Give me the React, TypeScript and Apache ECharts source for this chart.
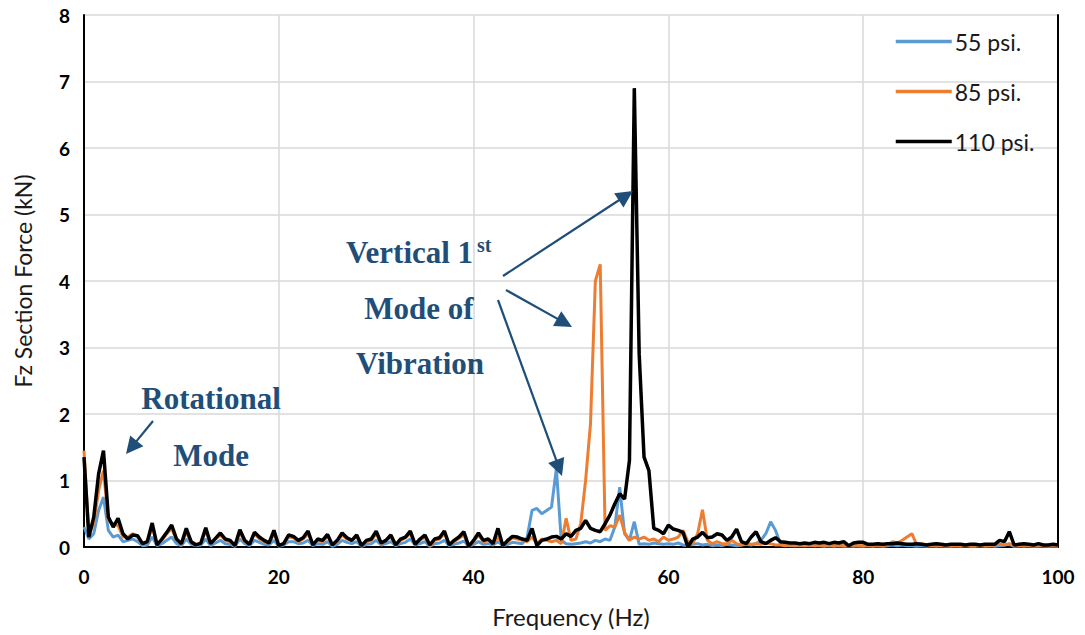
import React, { useEffect, useRef } from "react";
import * as echarts from "echarts";

// Frequency step of the FFT (Hz)
const FREQ_STEP = 0.5;

const seriesNames = ["55 psi.", "85 psi.", "110 psi."];
const seriesColors = ["#5B9BD5", "#ED7D31", "#000000"];

// Fz section force (kN) at 0, 0.5, 1.0 ... 100 Hz
const psi55 = [
  0.3, 0.12, 0.2, 0.55, 0.75, 0.25, 0.15, 0.18, 0.08, 0.1,
  0.12, 0.08, 0.02, 0.03, 0.15, 0.02, 0.05, 0.1, 0.15, 0.05,
  0.02, 0.12, 0.04, 0.02, 0.03, 0.12, 0.02, 0.06, 0.1, 0.05,
  0.04, 0.01, 0.12, 0.05, 0.02, 0.1, 0.07, 0.04, 0.03, 0.1,
  0.01, 0.03, 0.08, 0.08, 0.05, 0.06, 0.1, 0.02, 0.05, 0.04,
  0.08, 0.01, 0.04, 0.1, 0.07, 0.05, 0.08, 0.01, 0.04, 0.05,
  0.1, 0.03, 0.05, 0.08, 0.02, 0.05, 0.07, 0.12, 0.03, 0.05,
  0.08, 0.01, 0.05, 0.06, 0.1, 0.02, 0.04, 0.06, 0.09, 0.01,
  0.04, 0.08, 0.04, 0.05, 0.03, 0.08, 0.02, 0.04, 0.07, 0.06,
  0.05, 0.15, 0.55, 0.58, 0.5, 0.55, 0.6, 1.18, 0.1, 0.05,
  0.04, 0.05, 0.06, 0.08, 0.06, 0.1, 0.08, 0.12, 0.1, 0.3,
  0.9, 0.2, 0.1, 0.38, 0.04, 0.05, 0.04, 0.06, 0.05, 0.04,
  0.05, 0.04, 0.06, 0.03, 0.02, 0.04, 0.05, 0.03, 0.04, 0.02,
  0.03, 0.02, 0.04, 0.03, 0.02, 0.03, 0.04, 0.03, 0.05, 0.1,
  0.2, 0.38, 0.25, 0.05, 0.03, 0.02, 0.02, 0.02, 0.02, 0.02,
  0.02, 0.02, 0.01, 0.02, 0.01, 0.02, 0.01, 0.02, 0.01, 0.02,
  0.01, 0.02, 0.01, 0.02, 0.01, 0.02, 0.03, 0.02, 0.03, 0.02,
  0.02, 0.01, 0.02, 0.01, 0.02, 0.01, 0.02, 0.01, 0.01, 0.02,
  0.01, 0.02, 0.01, 0.01, 0.02, 0.01, 0.02, 0.01, 0.02, 0.03,
  0.04, 0.01, 0.02, 0.01, 0.02, 0.01, 0.01, 0.02, 0.01, 0.01,
  0.01,
];

const psi85 = [
  1.45, 0.2, 0.35, 0.85, 1.15, 0.4, 0.35, 0.32, 0.15, 0.15,
  0.2, 0.15, 0.05, 0.08, 0.3, 0.05, 0.1, 0.2, 0.28, 0.1,
  0.05, 0.22, 0.08, 0.04, 0.06, 0.24, 0.05, 0.12, 0.18, 0.1,
  0.08, 0.02, 0.22, 0.08, 0.05, 0.2, 0.12, 0.08, 0.06, 0.2,
  0.03, 0.05, 0.15, 0.14, 0.08, 0.12, 0.2, 0.04, 0.1, 0.08,
  0.16, 0.03, 0.08, 0.18, 0.12, 0.1, 0.16, 0.03, 0.08, 0.1,
  0.2, 0.05, 0.1, 0.15, 0.03, 0.1, 0.14, 0.2, 0.05, 0.1,
  0.15, 0.02, 0.1, 0.12, 0.2, 0.04, 0.08, 0.13, 0.18, 0.02,
  0.08, 0.18, 0.08, 0.1, 0.05, 0.15, 0.03, 0.08, 0.14, 0.12,
  0.1, 0.08, 0.15, 0.05, 0.12, 0.1, 0.08, 0.1, 0.05, 0.43,
  0.1, 0.12, 0.35, 1.0, 1.85, 4.0, 4.25, 0.25, 0.32, 0.3,
  0.48, 0.22, 0.1, 0.15, 0.12, 0.15, 0.1, 0.12, 0.08, 0.15,
  0.1, 0.12, 0.15, 0.25, 0.08, 0.05, 0.2, 0.56, 0.1, 0.05,
  0.08, 0.05, 0.05, 0.1, 0.05, 0.03, 0.06, 0.04, 0.05, 0.04,
  0.06, 0.05, 0.03, 0.03, 0.02, 0.03, 0.02, 0.03, 0.02, 0.03,
  0.02, 0.03, 0.02, 0.03, 0.02, 0.03, 0.02, 0.02, 0.03, 0.02,
  0.02, 0.03, 0.02, 0.03, 0.02, 0.03, 0.08, 0.06, 0.1, 0.15,
  0.2, 0.03, 0.05, 0.03, 0.02, 0.03, 0.02, 0.03, 0.02, 0.02,
  0.02, 0.03, 0.02, 0.02, 0.03, 0.02, 0.02, 0.03, 0.04, 0.03,
  0.05, 0.02, 0.02, 0.03, 0.02, 0.02, 0.03, 0.02, 0.02, 0.03,
  0.02,
];

const psi110 = [
  1.35, 0.15, 0.45, 1.1, 1.45, 0.45, 0.3, 0.43, 0.2, 0.12,
  0.18, 0.17, 0.05, 0.08, 0.36, 0.03, 0.12, 0.22, 0.33, 0.12,
  0.05, 0.28, 0.08, 0.03, 0.06, 0.29, 0.05, 0.13, 0.21, 0.12,
  0.1, 0.02, 0.26, 0.1, 0.04, 0.22, 0.15, 0.1, 0.06, 0.25,
  0.02, 0.05, 0.18, 0.16, 0.1, 0.14, 0.24, 0.03, 0.12, 0.1,
  0.19, 0.03, 0.1, 0.21, 0.14, 0.1, 0.18, 0.02, 0.1, 0.12,
  0.24, 0.06, 0.1, 0.18, 0.03, 0.12, 0.15, 0.24, 0.04, 0.12,
  0.18, 0.03, 0.12, 0.14, 0.24, 0.03, 0.1, 0.15, 0.23, 0.01,
  0.1, 0.21, 0.1, 0.12, 0.05, 0.28, 0.02, 0.1, 0.16, 0.15,
  0.12, 0.1, 0.28, 0.02, 0.1, 0.12, 0.15, 0.16, 0.12, 0.2,
  0.16, 0.25, 0.28, 0.4, 0.28, 0.25, 0.23, 0.35, 0.48, 0.65,
  0.8, 0.72, 1.3, 6.9, 2.9, 1.35, 1.15, 0.28, 0.25, 0.2,
  0.33, 0.27, 0.25, 0.22, 0.0, 0.12, 0.15, 0.22, 0.14, 0.15,
  0.2, 0.18, 0.1, 0.15, 0.27, 0.08, 0.05, 0.15, 0.23, 0.08,
  0.05, 0.1, 0.14, 0.08, 0.07, 0.06, 0.06, 0.05, 0.06, 0.05,
  0.07, 0.06, 0.07, 0.05, 0.07, 0.06, 0.08, 0.02, 0.06, 0.07,
  0.07, 0.04, 0.04, 0.05, 0.04, 0.05, 0.05, 0.06, 0.05, 0.04,
  0.04, 0.05, 0.04, 0.03, 0.04, 0.05, 0.04, 0.03, 0.04, 0.04,
  0.04, 0.03, 0.04, 0.04, 0.03, 0.04, 0.04, 0.04, 0.1, 0.08,
  0.23, 0.03, 0.04, 0.05, 0.04, 0.03, 0.05, 0.03, 0.03, 0.04,
  0.03,
];

const xTicks = { min: 0, max: 100, interval: 20 };
const yTicks = { min: 0, max: 8, interval: 1 };

const ANNOT = "#1F4E79";
const SERIF = "'Liberation Serif', 'Times New Roman', serif";
const SANS = "Lato, 'Noto Sans', sans-serif";

function arrow(x1: number, y1: number, x2: number, y2: number) {
  const dx = x2 - x1;
  const dy = y2 - y1;
  const len = Math.sqrt(dx * dx + dy * dy);
  const ux = dx / len;
  const uy = dy / len;
  const hl = 17;
  const hw = 8.5;
  const bx = x2 - ux * hl;
  const by = y2 - uy * hl;
  return [
    {
      type: "line",
      shape: { x1, y1, x2: bx + ux * 2, y2: by + uy * 2 },
      style: { stroke: ANNOT, lineWidth: 2.2 },
      z: 100,
    },
    {
      type: "polygon",
      shape: {
        points: [
          [x2, y2],
          [bx - uy * hw, by + ux * hw],
          [bx + uy * hw, by - ux * hw],
        ],
      },
      style: { fill: ANNOT },
      z: 100,
    },
  ];
}

function label(text: string, x: number, y: number, size: number, align: string = "center") {
  return {
    type: "text",
    x,
    y,
    z: 100,
    style: {
      text,
      fill: ANNOT,
      font: `bold ${size}px ${SERIF}`,
      textAlign: align,
      textVerticalAlign: "middle",
    },
  };
}

export default function App() {
  const ref = useRef<HTMLDivElement>(null);

  useEffect(() => {
    if (!ref.current) return;
    const chart = echarts.init(ref.current, undefined, { renderer: "svg" });
    const toPairs = (vals: number[]) => vals.map((v, i) => [i * FREQ_STEP, v]);
    const allData = [psi55, psi85, psi110];

    chart.setOption({
      animation: false,
      backgroundColor: "#ffffff",
      grid: { left: 84, right: 27, top: 15, bottom: 88, containLabel: false },
      legend: {
        orient: "vertical",
        left: 889,
        top: 25,
        itemWidth: 56,
        itemHeight: 14,
        itemGap: 27,
        data: seriesNames,
        itemStyle: { opacity: 0 },
        lineStyle: { width: 3.5 },
        textStyle: { fontFamily: SANS, fontSize: 23, color: "#1a1a1a", padding: [0, 0, 0, -2] },
      },
      xAxis: {
        type: "value",
        min: xTicks.min,
        max: xTicks.max,
        interval: xTicks.interval,
        name: "Frequency (Hz)",
        nameLocation: "middle",
        nameGap: 57,
        nameTextStyle: { fontFamily: SANS, fontSize: 24, color: "#1a1a1a" },
        axisLine: { show: true, onZero: false, lineStyle: { color: "#000", width: 2 } },
        axisTick: { show: false },
        axisLabel: {
          margin: 20,
          fontFamily: SANS,
          fontWeight: "bold",
          fontSize: 19,
          color: "#000",
        },
        splitLine: { show: true, lineStyle: { color: "#d9d9d9", width: 1.5 } },
      },
      yAxis: [
        {
          type: "value",
          min: yTicks.min,
          max: yTicks.max,
          interval: yTicks.interval,
          name: "Fz Section Force (kN)",
          nameLocation: "middle",
          nameGap: 50,
          nameTextStyle: { fontFamily: SANS, fontSize: 23, color: "#1a1a1a" },
          axisLine: { show: true, lineStyle: { color: "#000", width: 2 } },
          axisTick: { show: false },
          axisLabel: {
            margin: 14,
            fontFamily: SANS,
            fontWeight: "bold",
            fontSize: 19,
            color: "#000",
          },
          splitLine: { show: true, lineStyle: { color: "#d9d9d9", width: 1.5 } },
        },
        {
          type: "value",
          position: "right",
          min: yTicks.min,
          max: yTicks.max,
          interval: yTicks.interval,
          axisLine: { show: true, lineStyle: { color: "#000", width: 2 } },
          axisTick: { show: false },
          axisLabel: { show: false },
          splitLine: { show: false },
        },
      ],
      series: seriesNames.map((name, k) => ({
        name,
        type: "line",
        data: toPairs(allData[k]),
        symbol: "none",
        showSymbol: false,
        lineStyle: { color: seriesColors[k], width: k === 2 ? 3.5 : 3 },
        itemStyle: { color: seriesColors[k] },
        z: 2 + k,
      })),
      graphic: [
        label("Rotational", 211, 398, 31),
        label("Mode", 211, 455, 31),
        label("Vertical 1", 346, 252, 31, "left"),
        label("st", 477, 245, 20, "left"),
        label("Mode of", 419, 308, 31),
        label("Vibration", 420, 363, 31),
        ...arrow(153, 421, 126, 454),
        ...arrow(503, 276, 633, 191),
        ...arrow(506, 290, 572, 327),
        ...arrow(498, 300, 562, 476),
      ],
    });

    return () => chart.dispose();
  }, []);

  return (
    <div
      ref={ref}
      style={{ position: "fixed", left: 0, top: 0, width: 1085, height: 635, background: "#fff" }}
    />
  );
}
